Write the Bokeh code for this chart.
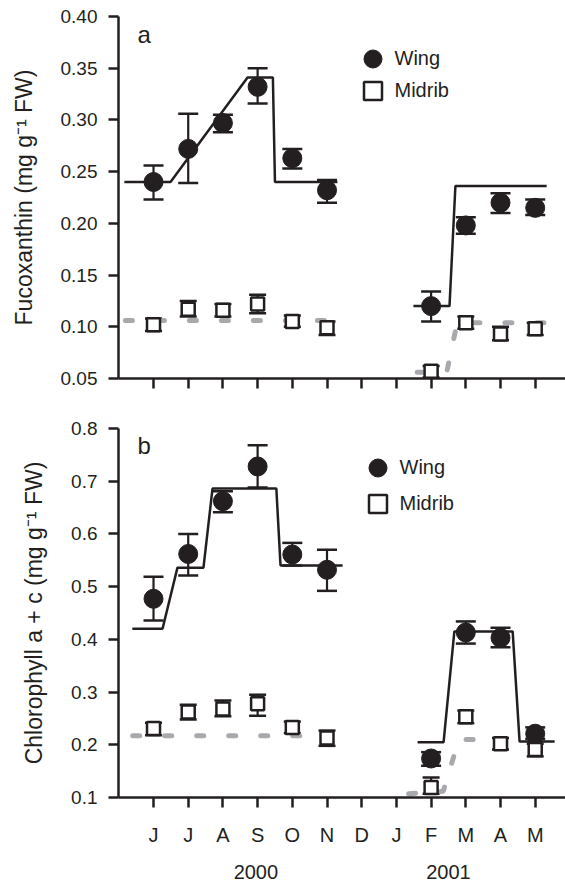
from bokeh.plotting import figure
from bokeh.layouts import column
from bokeh.models import (ColumnDataSource, Whisker, TeeHead, FixedTicker, LinearAxis,
                          Legend, LegendItem, Label, Range1d, NumeralTickFormatter)
from bokeh.embed import file_html
from bokeh.resources import INLINE

# ---------------- data ----------------
months = ["J", "J", "A", "S", "O", "N", "D", "J", "F", "M", "A", "M"]
month_pos = list(range(12))
years = ["2000", "2001"]
year_pos = [2.95, 8.5]
sample_pos = [0, 1, 2, 3, 4, 5, 8, 9, 10, 11]

# panel a: fucoxanthin
fuco_wing = [0.240, 0.272, 0.297, 0.332, 0.263, 0.232, 0.120, 0.198, 0.220, 0.215]
fuco_wing_hi = [0.256, 0.306, 0.305, 0.350, 0.272, 0.242, 0.134, 0.206, 0.229, 0.223]
fuco_wing_lo = [0.223, 0.239, 0.288, 0.316, 0.253, 0.220, 0.105, 0.190, 0.210, 0.208]
fuco_mid = [0.102, 0.117, 0.116, 0.122, 0.105, 0.099, 0.057, 0.104, 0.093, 0.098]
fuco_mid_hi = [0.108, 0.125, 0.122, 0.131, 0.111, 0.105, 0.062, 0.110, 0.100, 0.104]
fuco_mid_lo = [0.096, 0.110, 0.110, 0.113, 0.100, 0.092, 0.051, 0.098, 0.087, 0.092]
fuco_wing_fit_x = [[-0.84, 0.49, 2.71, 3.44, 3.50, 5.30], [7.49, 8.53, 8.70, 11.33]]
fuco_wing_fit_y = [[0.240, 0.240, 0.341, 0.341, 0.240, 0.240], [0.120, 0.120, 0.236, 0.236]]
fuco_mid_fit_x = [[-0.81, 5.25], [7.60, 8.45, 8.75, 11.30]]
fuco_mid_fit_y = [[0.106, 0.106], [0.056, 0.056, 0.104, 0.104]]

# panel b: chlorophyll a + c
chl_wing = [0.477, 0.562, 0.662, 0.728, 0.561, 0.532, 0.174, 0.413, 0.403, 0.221]
chl_wing_hi = [0.519, 0.600, 0.681, 0.768, 0.583, 0.570, 0.186, 0.434, 0.422, 0.233]
chl_wing_lo = [0.436, 0.521, 0.641, 0.688, 0.540, 0.492, 0.160, 0.392, 0.385, 0.211]
chl_mid = [0.231, 0.262, 0.268, 0.278, 0.233, 0.213, 0.119, 0.253, 0.202, 0.191]
chl_mid_hi = [0.242, 0.276, 0.284, 0.295, 0.244, 0.227, 0.138, 0.265, 0.213, 0.202]
chl_mid_lo = [0.218, 0.248, 0.254, 0.255, 0.222, 0.198, 0.107, 0.241, 0.191, 0.178]
chl_wing_fit_x = [[-0.61, 0.26, 0.69, 1.44, 1.70, 3.54, 3.66, 5.45],
                  [7.61, 8.36, 8.67, 10.35, 10.55, 11.56]]
chl_wing_fit_y = [[0.420, 0.420, 0.536, 0.536, 0.686, 0.686, 0.540, 0.540],
                  [0.205, 0.205, 0.415, 0.415, 0.206, 0.206]]
chl_mid_fit_x = [[-0.60, 5.40], [7.35, 8.35, 8.80, 11.50]]
chl_mid_fit_y = [[0.217, 0.217], [0.107, 0.112, 0.210, 0.210]]

# ---------------- style ----------------
FONT = "Liberation Sans"
INK = "#231f20"
GRAY = "#a7a9ac"
W = 565
LEFT = 118
X_RANGE = (-1.009, 11.873)


def make_panel(height, top, bottom, y_range, yticks, yfmt, ylabel, letter, letter_y,
               wing, wing_lo, wing_hi, mid, mid_lo, mid_hi,
               wfx, wfy, mfx, mfy, leg_wing, leg_mid, show_months):
    p = figure(width=W, height=height, output_backend="svg", toolbar_location=None,
               x_range=Range1d(*X_RANGE), y_range=Range1d(*y_range),
               min_border_left=LEFT, min_border_right=0,
               min_border_top=top, min_border_bottom=bottom)
    p.outline_line_color = None
    p.xgrid.visible = False
    p.ygrid.visible = False
    p.background_fill_color = "white"
    p.border_fill_color = "white"

    # y axis
    ya = p.yaxis[0]
    ya.ticker = FixedTicker(ticks=yticks)
    ya.formatter = NumeralTickFormatter(format=yfmt)
    ya.axis_label = ylabel
    ya.axis_label_text_font = FONT
    ya.axis_label_text_font_size = "23px"
    ya.axis_label_text_font_style = "normal"
    ya.axis_label_text_color = INK
    ya.axis_label_standoff = 21
    ya.major_label_text_font = FONT
    ya.major_label_text_font_size = "19px"
    ya.major_label_text_color = INK
    ya.major_label_standoff = 11
    ya.major_tick_out = 10
    ya.major_tick_in = 0
    ya.minor_tick_out = 0
    ya.minor_tick_in = 0
    ya.axis_line_width = 2.5
    ya.axis_line_color = INK
    ya.major_tick_line_width = 2.5
    ya.major_tick_line_color = INK

    # x axis
    xa = p.xaxis[0]
    xa.ticker = FixedTicker(ticks=month_pos)
    if show_months:
        xa.major_label_overrides = {i: m for i, m in zip(month_pos, months)}
        xa.major_label_text_font_size = "20px"
        xa.major_label_standoff = 16
    else:
        xa.major_label_overrides = {i: "" for i in month_pos}
        xa.major_label_text_font_size = "1px"
        xa.major_label_standoff = 0
    xa.major_label_text_font = FONT
    xa.major_label_text_color = INK
    xa.major_tick_out = 10
    xa.major_tick_in = 0
    xa.minor_tick_out = 0
    xa.minor_tick_in = 0
    xa.axis_line_width = 2.5
    xa.axis_line_color = INK
    xa.major_tick_line_width = 2.5
    xa.major_tick_line_color = INK

    if show_months:
        ya2 = LinearAxis(ticker=FixedTicker(ticks=year_pos),
                         major_label_overrides={k: v for k, v in zip(year_pos, years)},
                         axis_line_color=None, major_tick_line_color=None,
                         minor_tick_line_color=None,
                         major_label_text_font=FONT, major_label_text_font_size="20px",
                         major_label_text_color=INK, major_label_standoff=10)
        p.add_layout(ya2, "below")

    wsrc = ColumnDataSource(dict(x=sample_pos, y=wing, lo=wing_lo, hi=wing_hi))
    msrc = ColumnDataSource(dict(x=sample_pos, y=mid, lo=mid_lo, hi=mid_hi))

    for src, cap in ((wsrc, 20), (msrc, 17)):
        wk = Whisker(source=src, base="x", upper="hi", lower="lo",
                     line_color=INK, line_width=2.2, level="underlay",
                     upper_head=TeeHead(size=cap, line_color=INK, line_width=2.5),
                     lower_head=TeeHead(size=cap, line_color=INK, line_width=2.5))
        p.add_layout(wk)

    p.multi_line(xs=mfx, ys=mfy, line_color=GRAY, line_width=5,
                 line_dash="7 25", line_cap="round")
    p.multi_line(xs=wfx, ys=wfy, line_color=INK, line_width=2.5)
    rw = p.scatter("x", "y", source=wsrc, marker="circle", size=19,
                   fill_color=INK, line_color=INK)
    rm = p.scatter("x", "y", source=msrc, marker="square", size=13,
                   fill_color="white", line_color=INK, line_width=2.5)

    for label, rend, loc in (("Wing", rw, leg_wing), ("Midrib", rm, leg_mid)):
        legend = Legend(items=[LegendItem(label=label, renderers=[rend])],
                        location=loc, orientation="vertical",
                        glyph_width=45, glyph_height=45,
                        padding=0, margin=0, label_standoff=0,
                        border_line_color=None, background_fill_alpha=0,
                        label_text_font=FONT, label_text_font_size="20px",
                        label_text_color=INK)
        p.add_layout(legend)

    p.add_layout(Label(x=-0.46, y=letter_y, text=letter, text_font=FONT,
                       text_font_size="24px", text_color=INK,
                       text_baseline="alphabetic"))
    return p


p1 = make_panel(400, 16, 22, (0.05, 0.40),
                [0.05, 0.10, 0.15, 0.20, 0.25, 0.30, 0.35, 0.40], "0.00",
                "Fucoxanthin (mg g\u207b\u00b9 FW)", "a", 0.383,
                fuco_wing, fuco_wing_lo, fuco_wing_hi, fuco_mid, fuco_mid_lo, fuco_mid_hi,
                fuco_wing_fit_x, fuco_wing_fit_y, fuco_mid_fit_x, fuco_mid_fit_y,
                (231.5, 297.5), (231.5, 265.5), False)

p2 = make_panel(481, 28, 84, (0.1, 0.8),
                [0.1, 0.2, 0.3, 0.4, 0.5, 0.6, 0.7, 0.8], "0.0",
                "Chlorophyll a + c (mg g\u207b\u00b9 FW)", "b", 0.767,
                chl_wing, chl_wing_lo, chl_wing_hi, chl_mid, chl_mid_lo, chl_mid_hi,
                chl_wing_fit_x, chl_wing_fit_y, chl_mid_fit_x, chl_mid_fit_y,
                (236.5, 307.5), (236.5, 271.5), True)

layout = column(p1, p2, spacing=0)
open("out.html", "w").write(file_html(layout, INLINE))
